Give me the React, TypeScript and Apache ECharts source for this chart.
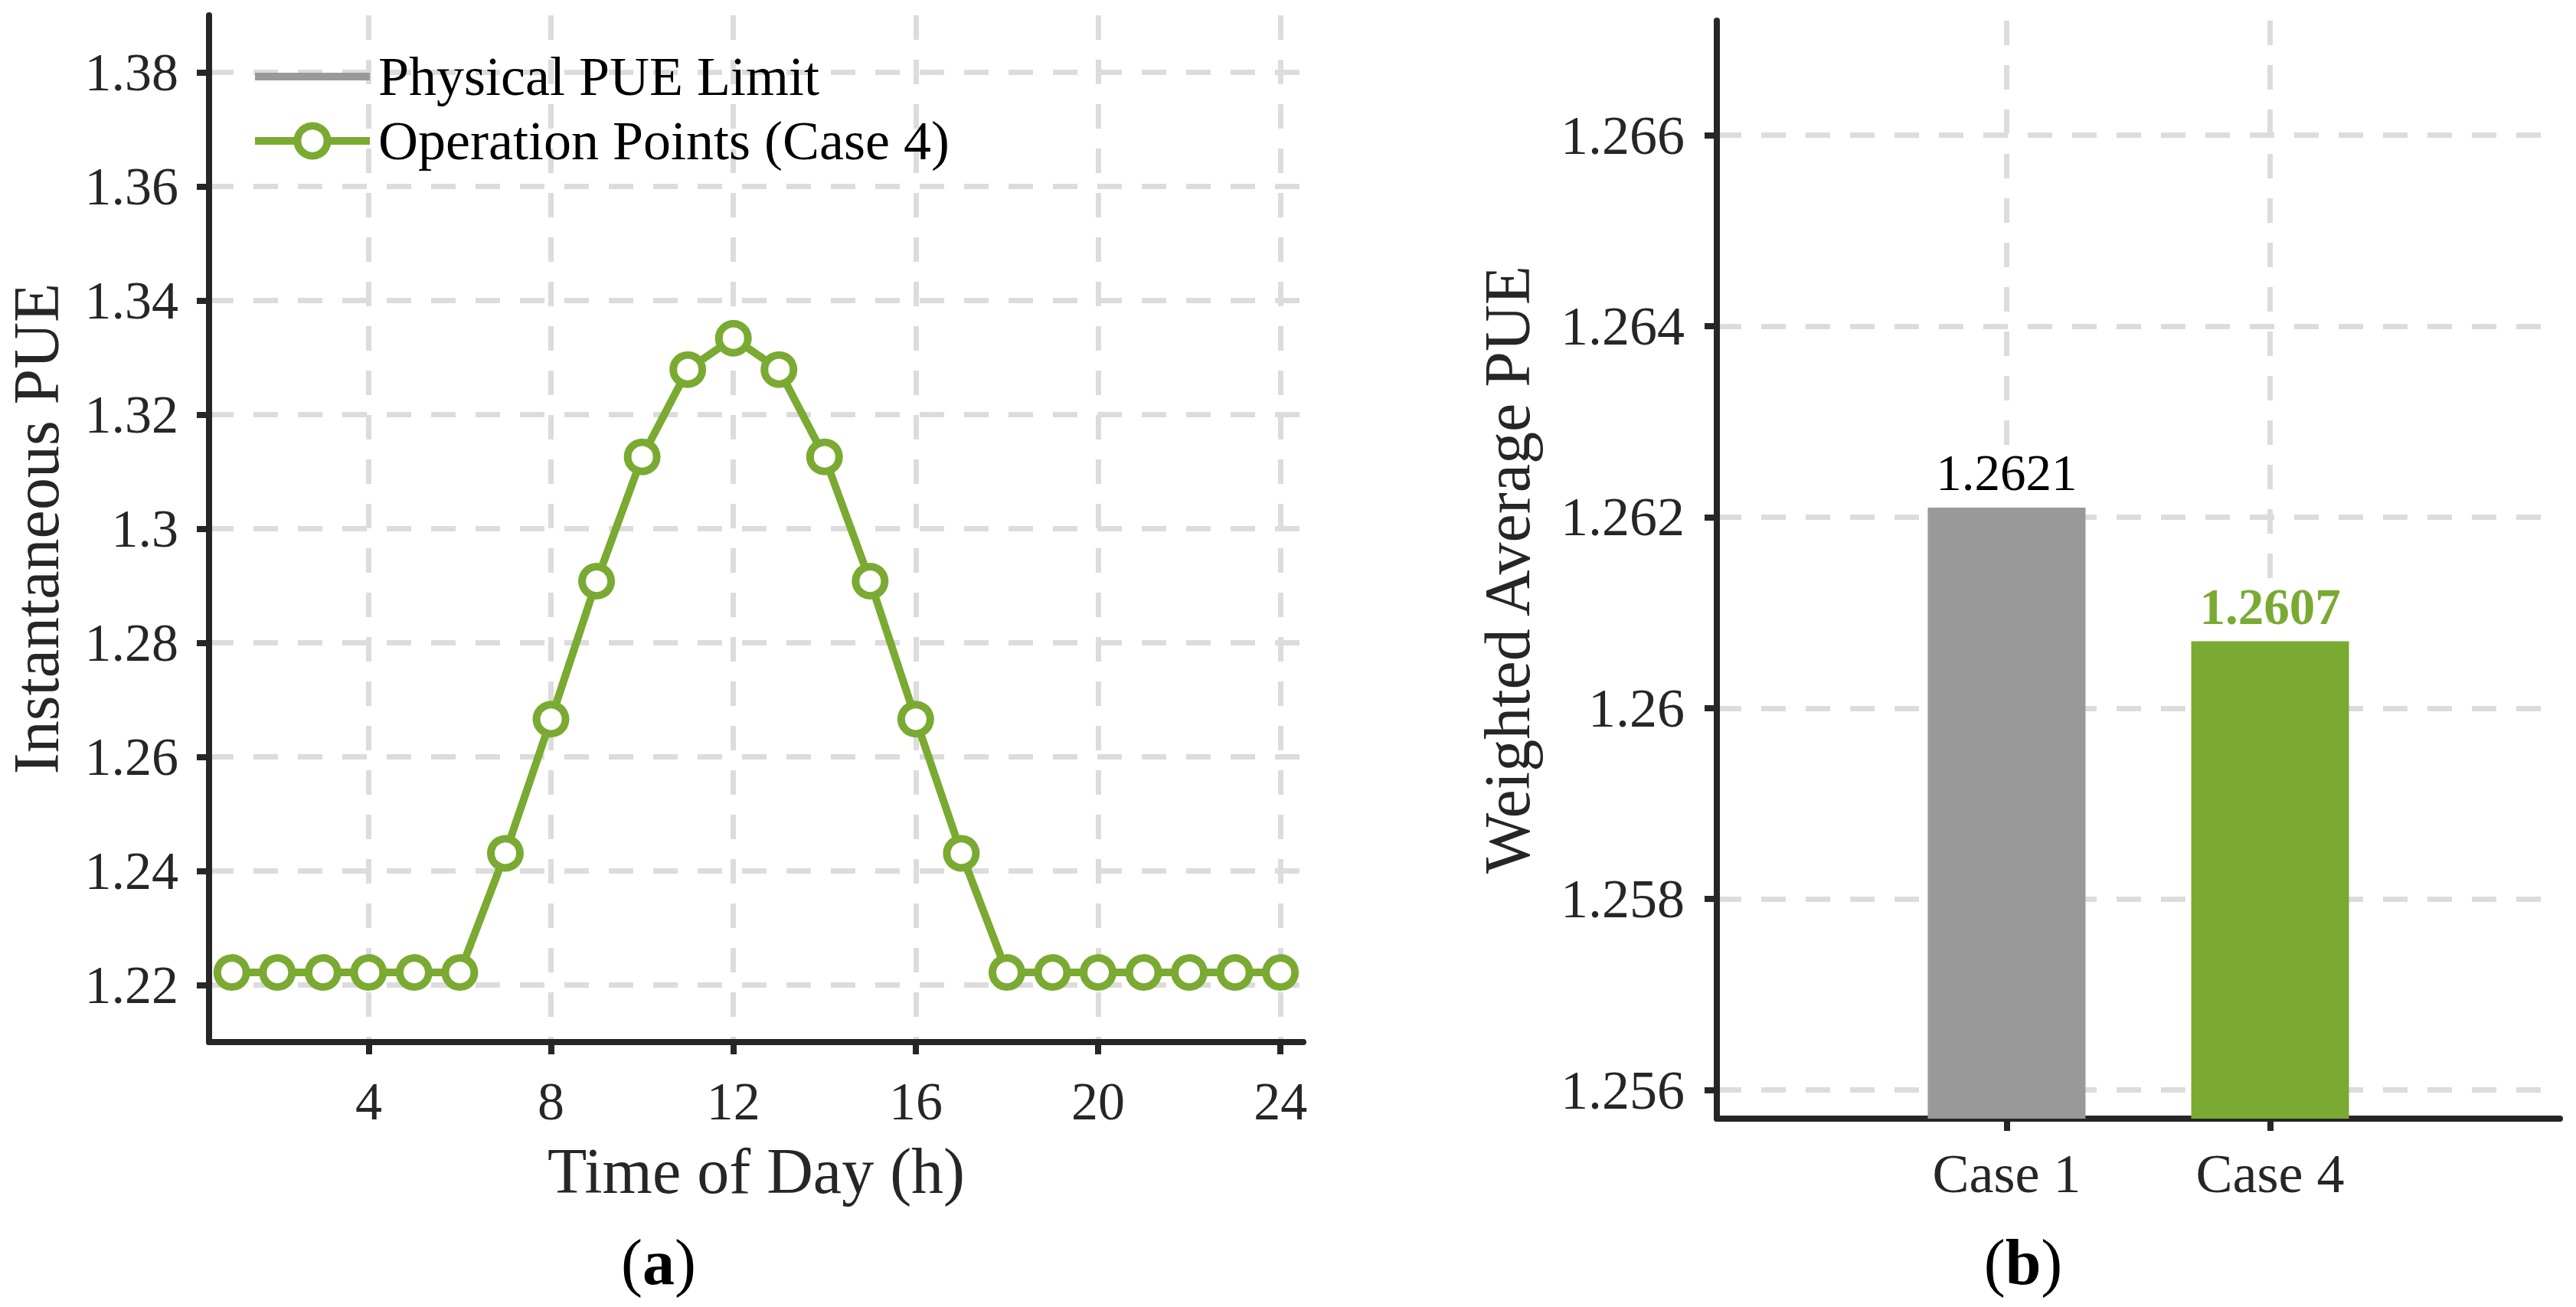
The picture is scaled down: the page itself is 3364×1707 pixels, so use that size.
import React, { useEffect, useRef } from "react";
import * as echarts from "echarts";

// ---- data ----
const hours = [1, 2, 3, 4, 5, 6, 7, 8, 9, 10, 11, 12, 13, 14, 15, 16, 17, 18, 19, 20, 21, 22, 23, 24];
const pueCase4 = [
  1.2222, 1.2222, 1.2222, 1.2222, 1.2222, 1.2222,
  1.2431, 1.2666, 1.2908, 1.3126, 1.3279, 1.3334, 1.3279, 1.3126, 1.2908, 1.2666, 1.2431,
  1.2222, 1.2222, 1.2222, 1.2222, 1.2222, 1.2222, 1.2222,
];
// physical limit lies outside the plotted range: only its legend entry is visible
const physicalLimit: number[][] = [];
const hourTicks = [4, 8, 12, 16, 20, 24];
const pueTicks = [1.22, 1.24, 1.26, 1.28, 1.3, 1.32, 1.34, 1.36, 1.38];

const caseNames = ["Case 1", "Case 4"];
const casePositions = [1, 2];
const weightedPue = [1.2621, 1.2607];
const weightedTicks = [1.256, 1.258, 1.26, 1.262, 1.264, 1.266];

const legendNames = ["Physical PUE Limit", "Operation Points (Case 4)"];

const GREEN = "#7aaa32";
const GRAY = "#999999";
const DARK = "#262626";
const GRID = "#dcdcdc";
const FONT = "Liberation Serif";

const fmt = (v: number) => String(parseFloat(Number(v).toFixed(4)));

export default function App() {
  const ref = useRef<HTMLDivElement>(null);
  useEffect(() => {
    if (!ref.current) return;
    const chart = echarts.init(ref.current, undefined, { renderer: "svg" });

    const axisLine = { onZero: false, lineStyle: { color: DARK, width: 8 } };
    const axisTickBase = { length: 16, lineStyle: { color: DARK, width: 8 } };
    const split = { show: true, lineStyle: { color: GRID, width: 7, type: [32, 26] } };
    const lbl = { color: DARK, fontFamily: FONT, fontSize: 70 };
    const nameStyle = { color: DARK, fontFamily: FONT, fontSize: 84 };

    chart.setOption({
      animation: false,
      backgroundColor: "#ffffff",
      grid: [
        { left: 273, right: 1662, top: 20, bottom: 346 },
        { left: 2242, right: 21, top: 27, bottom: 246 },
      ],
      xAxis: [
        {
          type: "value",
          gridIndex: 0,
          min: 0.5,
          max: 24.5,
          axisLine,
          axisTick: { ...axisTickBase, customValues: hourTicks },
          axisLabel: { ...lbl, margin: 42, customValues: hourTicks, formatter: (v: number) => String(Math.round(v)) },
          splitLine: split,
          name: "Time of Day (h)",
          nameLocation: "middle",
          nameGap: 126,
          nameTextStyle: nameStyle,
        },
        {
          type: "value",
          gridIndex: 1,
          min: -0.1,
          max: 3.1,
          axisLine,
          axisTick: { ...axisTickBase, customValues: casePositions },
          axisLabel: {
            ...lbl,
            fontSize: 72,
            margin: 36,
            customValues: casePositions,
            formatter: (v: number) => caseNames[casePositions.indexOf(Math.round(v))] ?? "",
          },
          splitLine: split,
        },
      ],
      yAxis: [
        {
          type: "value",
          gridIndex: 0,
          min: 1.21,
          max: 1.39,
          axisLine,
          axisTick: { ...axisTickBase, customValues: pueTicks },
          axisLabel: { ...lbl, margin: 40, customValues: pueTicks, formatter: fmt },
          splitLine: split,
          name: "Instantaneous PUE",
          nameLocation: "middle",
          nameGap: 184,
          nameTextStyle: nameStyle,
        },
        {
          type: "value",
          gridIndex: 1,
          min: 1.2557,
          max: 1.2672,
          axisLine,
          axisTick: { ...axisTickBase, customValues: weightedTicks },
          axisLabel: { ...lbl, fontSize: 72, margin: 42, customValues: weightedTicks, formatter: fmt },
          splitLine: split,
          name: "Weighted Average PUE",
          nameLocation: "middle",
          nameGap: 232,
          nameTextStyle: nameStyle,
        },
      ],
      legend: {
        orient: "vertical",
        left: 328,
        top: 64,
        padding: 0,
        itemWidth: 150,
        itemHeight: 49,
        itemGap: 12,
        textStyle: { color: "#000", fontFamily: FONT, fontSize: 72, lineHeight: 72, padding: [0, 0, 0, 6] },
        data: [
          {
            name: legendNames[0],
            lineStyle: { color: GRAY, width: 10 },
            itemStyle: { opacity: 0, color: "transparent", borderColor: "transparent", borderWidth: 0 },
          },
          {
            name: legendNames[1],
            lineStyle: { color: GREEN, width: 10 },
            itemStyle: { color: "#ffffff", borderColor: GREEN, borderWidth: 10 },
          },
        ],
      },
      series: [
        {
          name: legendNames[0],
          type: "line",
          xAxisIndex: 0,
          yAxisIndex: 0,
          data: physicalLimit,
          symbol: "none",
          color: GRAY,
          lineStyle: { color: GRAY, width: 10 },
        },
        {
          name: legendNames[1],
          type: "line",
          xAxisIndex: 0,
          yAxisIndex: 0,
          data: hours.map((h, i) => [h, pueCase4[i]]),
          symbol: "circle",
          symbolSize: 38,
          showAllSymbol: true,
          lineStyle: { color: GREEN, width: 10 },
          itemStyle: { color: "#ffffff", borderColor: GREEN, borderWidth: 10 },
          z: 3,
        },
        {
          type: "bar",
          xAxisIndex: 1,
          yAxisIndex: 1,
          barWidth: 206,
          data: casePositions.map((p, i) => ({
            value: [p, weightedPue[i]],
            itemStyle: { color: i === 0 ? GRAY : GREEN },
            label: {
              color: i === 0 ? "#000" : GREEN,
              fontWeight: i === 0 ? "normal" : "bold",
            },
          })),
          label: {
            show: true,
            position: "top",
            distance: 12,
            fontFamily: FONT,
            fontSize: 67,
            formatter: (p: any) => p.value[1].toFixed(4),
          },
        },
      ],
      graphic: [
        {
          type: "text",
          x: 860,
          y: 1648,
          style: {
            text: "{n|(}{b|a}{n|)}",
            align: "center",
            verticalAlign: "middle",
            rich: {
              n: { fontFamily: FONT, fontSize: 84, fill: "#000" },
              b: { fontFamily: FONT, fontSize: 84, fontWeight: "bold", fill: "#000" },
            },
          },
        },
        {
          type: "text",
          x: 2642,
          y: 1648,
          style: {
            text: "{n|(}{b|b}{n|)}",
            align: "center",
            verticalAlign: "middle",
            rich: {
              n: { fontFamily: FONT, fontSize: 84, fill: "#000" },
              b: { fontFamily: FONT, fontSize: 84, fontWeight: "bold", fill: "#000" },
            },
          },
        },
      ],
    });
    return () => chart.dispose();
  }, []);

  return (
    <div
      ref={ref}
      style={{ position: "absolute", left: 0, top: 0, width: 3364, height: 1707, background: "#fff" }}
    />
  );
}
